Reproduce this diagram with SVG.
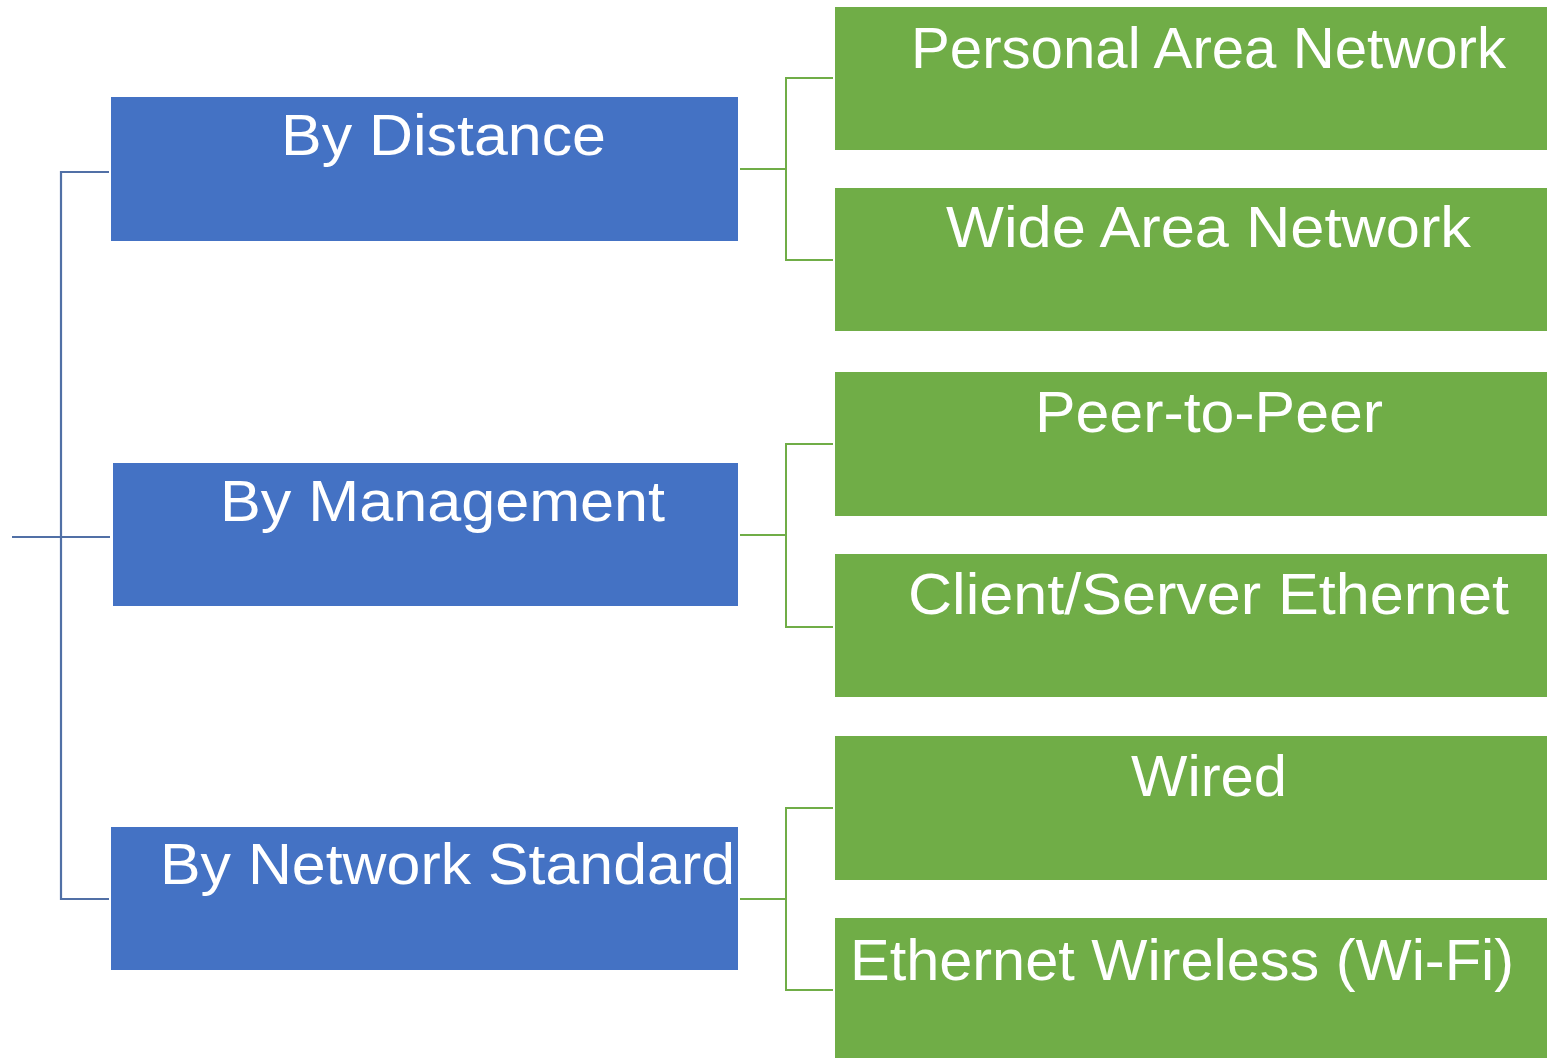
<svg xmlns="http://www.w3.org/2000/svg" width="1547" height="1058" viewBox="0 0 1547 1058">
<style>
.b{fill:#4472c4}
.g{fill:#70ad47}
.t{fill:#fff;font-family:"Liberation Sans",Arial,sans-serif;font-size:58px}
.cb{stroke:#5170a6;stroke-width:2.2;fill:none}
.cg{stroke:#70ad47;stroke-width:2;fill:none}
</style>
<rect width="1547" height="1058" fill="#fff"/>
<g id="connectors">
<path class="cb" d="M109,172H61V899H109M12,537H110"/>
<path class="cg" d="M740,169H786M833,78H786V260H833"/>
<path class="cg" d="M740,535H786M833,444H786V627H833"/>
<path class="cg" d="M740,899H786M833,808H786V990H833"/>
</g>
<g id="by-distance"><rect class="b" x="111" y="97" width="627" height="144"/><text class="t" x="281" y="155" textLength="325" lengthAdjust="spacingAndGlyphs">By Distance</text></g>
<g id="by-management"><rect class="b" x="113" y="463" width="625" height="143"/><text class="t" x="220" y="521" textLength="445" lengthAdjust="spacingAndGlyphs">By Management</text></g>
<g id="by-network-standard"><rect class="b" x="111" y="827" width="627" height="143"/><text class="t" x="160" y="884" textLength="575" lengthAdjust="spacingAndGlyphs">By Network Standard</text></g>
<g id="pan"><rect class="g" x="835" y="7" width="712" height="143"/><text class="t" x="911" y="68" textLength="595" lengthAdjust="spacingAndGlyphs">Personal Area Network</text></g>
<g id="wan"><rect class="g" x="835" y="188" width="712" height="143"/><text class="t" x="946" y="247" textLength="525" lengthAdjust="spacingAndGlyphs">Wide Area Network</text></g>
<g id="p2p"><rect class="g" x="835" y="372" width="712" height="144"/><text class="t" x="1035" y="432" textLength="348" lengthAdjust="spacingAndGlyphs">Peer-to-Peer</text></g>
<g id="client-server"><rect class="g" x="835" y="554" width="712" height="143"/><text class="t" x="908" y="614" textLength="601" lengthAdjust="spacingAndGlyphs">Client/Server Ethernet</text></g>
<g id="wired"><rect class="g" x="835" y="736" width="712" height="144"/><text class="t" x="1131" y="796" textLength="156" lengthAdjust="spacingAndGlyphs">Wired</text></g>
<g id="wifi"><rect class="g" x="835" y="918" width="712" height="140"/><text class="t" x="850" y="980" textLength="664" lengthAdjust="spacingAndGlyphs">Ethernet Wireless (Wi-Fi)</text></g>
</svg>
